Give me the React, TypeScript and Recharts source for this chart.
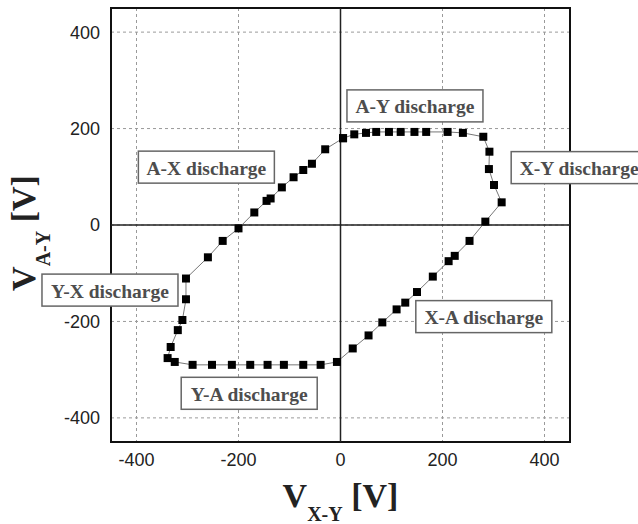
import React from 'react'
import {
  ScatterChart,
  Scatter,
  XAxis,
  YAxis,
  ZAxis,
  CartesianGrid,
  ReferenceLine,
  ReferenceArea,
  ReferenceDot
} from 'recharts'

// loop of V_X-Y / V_A-Y readings, in drawing order (closed)
const vxy = [5, -30, -56, -73, -92, -115, -137, -145, -169, -200, -231, -260, -303, -303, -310, -319, -333, -339, -325, -290, -252, -213, -177, -143, -111, -73, -39, -7, 24, 55, 82, 110, 127, 150, 181, 212, 224, 253, 284, 316, 301, 291, 292, 280, 240, 210, 168, 145, 118, 95, 70, 50, 27, 5]
const vay = [180, 157, 127, 114, 99, 78, 55, 50, 26, -7, -33, -67, -111, -154, -197, -218, -253, -276, -284, -290, -290, -290, -290, -290, -290, -290, -290, -284, -256, -229, -202, -175, -161, -139, -107, -75, -64, -33, 7, 47, 83, 116, 152, 183, 191, 193, 193, 193, 193, 193, 193, 191, 188, 180]

const ticks = [-400, -200, 0, 200, 400]

const calloutText = ['A-X discharge', 'A-Y discharge', 'X-Y discharge', 'Y-X discharge', 'Y-A discharge', 'X-A discharge']
const calloutX = [-263, 146, 468, -452, -179, 281]
const calloutY = [120, 247, 119, -135, -349, -190]

const loop = vxy.map((x, i) => ({ x, y: vay[i] }))

const tickStyle = { fill: '#222', fontSize: 18, fontFamily: "'Liberation Sans', Arial, sans-serif" }
const serif = "'Liberation Serif', 'Times New Roman', serif"

const makeCallout = (text: string) => (props: any) => {
  const { cx, cy } = props
  return (
    <g>
      <rect x={cx - 68} y={cy - 16} width={136} height={32} fill="#fff" stroke="#666" strokeWidth={1.5} />
      <text
        x={cx}
        y={cy + 1}
        textAnchor="middle"
        dominantBaseline="central"
        fontFamily={serif}
        fontWeight="bold"
        fontSize={19.5}
        fill="#4d4d4d"
      >
        {text}
      </text>
    </g>
  )
}

const XTitle = (props: any) => {
  const { viewBox } = props
  const cx = viewBox.x + viewBox.width / 2
  return (
    <text x={cx} y={viewBox.y + 65} textAnchor="middle" fontFamily={serif} fontWeight="bold" fill="#222">
      <tspan fontSize={34}>V</tspan>
      <tspan fontSize={20} dy={14}>X-Y</tspan>
      <tspan fontSize={34} dy={-14}>{' [V]'}</tspan>
    </text>
  )
}

const YTitle = (props: any) => {
  const { viewBox } = props
  const bx = 35
  const by = viewBox.y + viewBox.height / 2 + 8
  return (
    <text
      x={bx}
      y={by}
      transform={`rotate(-90 ${bx} ${by})`}
      textAnchor="middle"
      fontFamily={serif}
      fontWeight="bold"
      fill="#222"
    >
      <tspan fontSize={34}>V</tspan>
      <tspan fontSize={20} dy={15}>A-Y</tspan>
      <tspan fontSize={34} dy={-15}>{' [V]'}</tspan>
    </text>
  )
}

export default function App() {
  return (
    <div style={{ position: 'absolute', left: 0, top: 0, background: '#fff' }}>
      <ScatterChart width={638} height={524} margin={{ top: 8, right: 68, bottom: 0, left: 0 }}>
        <CartesianGrid stroke="#9a9a9a" strokeDasharray="3 3" />
        <XAxis
          type="number"
          dataKey="x"
          domain={[-450, 450]}
          ticks={ticks}
          allowDataOverflow
          axisLine={false}
          tickLine={false}
          tickSize={0}
          tickMargin={11}
          height={82}
          tick={tickStyle}
          label={{ content: XTitle }}
        />
        <YAxis
          type="number"
          dataKey="y"
          domain={[-450, 450]}
          ticks={ticks}
          allowDataOverflow
          axisLine={false}
          tickLine={false}
          tickSize={0}
          tickMargin={11}
          width={111}
          tick={tickStyle}
          label={{ content: YTitle }}
        />
        <ZAxis range={[70, 70]} />
        <ReferenceLine x={0} stroke="#222" strokeWidth={1.5} />
        <ReferenceLine y={0} stroke="#222" strokeWidth={1.5} />
        <ReferenceArea x1={-450} x2={450} y1={-450} y2={450} fill="none" stroke="#111" strokeWidth={2} />
        <Scatter
          data={loop}
          fill="#000"
          shape="square"
          line={{ stroke: '#777', strokeWidth: 1 }}
          isAnimationActive={false}
        />
        {calloutText.map((t, i) => (
          <ReferenceDot
            key={t}
            x={calloutX[i]}
            y={calloutY[i]}
            r={1}
            ifOverflow="visible"
            shape={makeCallout(t)}
          />
        ))}
      </ScatterChart>
    </div>
  )
}
